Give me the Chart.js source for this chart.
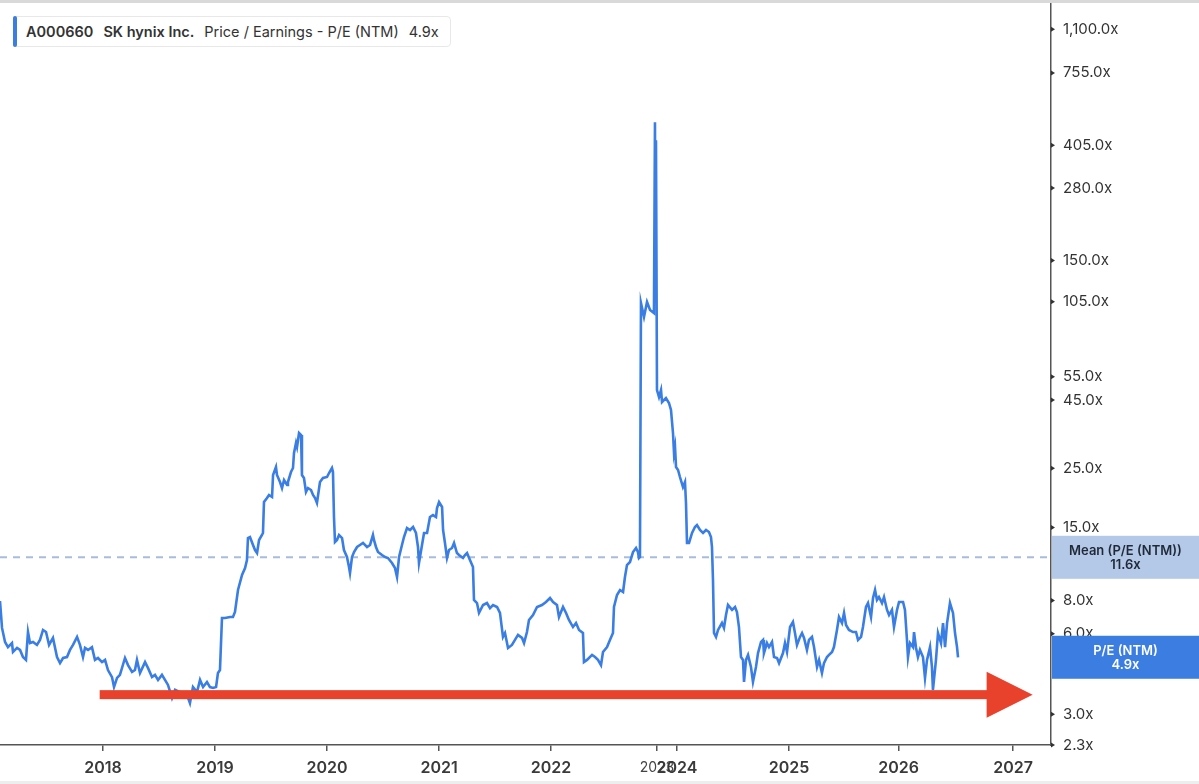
<!DOCTYPE html>
<html lang="en">
<head>
<meta charset="UTF-8">
<title>SK hynix P/E (NTM)</title>
<style>
    body {
        margin: 0;
        background: #fff;
        font-family: Inter, "Noto Sans", sans-serif;
    }
    .wrap {
        position: relative;
        width: 1199px;
        height: 784px;
        overflow: hidden;
    }
    .topbar {
        position: absolute;
        left: 0; top: 0;
        width: 100%; height: 3px;
        background: #d9d9d9;
    }
    .bottombar {
        position: absolute;
        left: 0; bottom: 0;
        width: 100%; height: 3px;
        background: #eeeeee;
    }
    .legend {
        position: absolute;
        left: 13px; top: 16px;
        width: 424px; height: 29px;
        padding-left: 12px;
        border: 1px solid #e8e8e8;
        border-radius: 4px;
        background: #fff;
        display: flex;
        align-items: center;
        font-size: 14.5px;
        color: #333;
        white-space: nowrap;
    }
    .legend .bar {
        position: absolute;
        left: -1px; top: -1px; bottom: -1px;
        width: 4px;
        background: #3b7de0;
        border-radius: 3px;
    }
    .legend span { margin-right: 10px; }
    .legend b { font-weight: 600; }
</style>
<script src="https://cdn.jsdelivr.net/npm/chart.js"></script>
</head>
<body>
<div class="wrap">
    <canvas id="peChart" width="1199" height="784"></canvas>
    <div class="topbar"></div>
    <div class="bottombar"></div>
    <div class="legend">
        <div class="bar"></div>
        <span><b>A000660</b></span>
        <span><b>SK hynix Inc.</b></span>
        <span>Price / Earnings - P/E (NTM)</span>
        <span id="legendValue">4.9x</span>
    </div>
</div>
<script>
// P/E (NTM) series, x in decimal years as plotted on the axis
const peDates = [
    2017.080, 2017.098, 2017.125, 2017.151, 2017.187, 2017.196, 2017.232, 2017.259, 2017.285, 2017.312,
    2017.330, 2017.348, 2017.375, 2017.410, 2017.437, 2017.464, 2017.491, 2017.518, 2017.553, 2017.589,
    2017.616, 2017.643, 2017.678, 2017.705, 2017.732, 2017.768, 2017.794, 2017.821, 2017.839, 2017.866,
    2017.901, 2017.928, 2017.955, 2017.991, 2018.018, 2018.044, 2018.080, 2018.098, 2018.125, 2018.151,
    2018.196, 2018.223, 2018.259, 2018.285, 2018.303, 2018.330, 2018.375, 2018.401, 2018.437, 2018.464,
    2018.491, 2018.526, 2018.553, 2018.580, 2018.616, 2018.643, 2018.687, 2018.714, 2018.750, 2018.776,
    2018.803, 2018.839, 2018.866, 2018.893, 2018.928, 2018.955, 2018.982, 2019.009, 2019.026, 2019.044,
    2019.062, 2019.089, 2019.134, 2019.160, 2019.178, 2019.205,
    2019.241, 2019.268, 2019.285, 2019.294, 2019.312, 2019.339, 2019.357, 2019.375, 2019.393, 2019.419,
    2019.428, 2019.437, 2019.464, 2019.482, 2019.509, 2019.518, 2019.544, 2019.553, 2019.580, 2019.598,
    2019.616, 2019.643, 2019.651, 2019.678, 2019.696, 2019.705, 2019.723, 2019.732, 2019.750, 2019.768,
    2019.776, 2019.794, 2019.812, 2019.830, 2019.857, 2019.875, 2019.893, 2019.910, 2019.937, 2019.964,
    2020.000, 2020.018, 2020.044, 2020.053, 2020.062, 2020.071, 2020.089, 2020.107, 2020.134, 2020.151,
    2020.178, 2020.196, 2020.205, 2020.223, 2020.241, 2020.268, 2020.294, 2020.321, 2020.357, 2020.384,
    2020.410, 2020.419, 2020.437, 2020.455, 2020.491, 2020.518, 2020.544, 2020.580, 2020.607, 2020.625,
    2020.643, 2020.669, 2020.687, 2020.714, 2020.741, 2020.768, 2020.794, 2020.812, 2020.821, 2020.848,
    2020.866, 2020.893, 2020.919, 2020.946, 2020.973, 2020.982, 2021.000, 2021.027, 2021.036, 2021.053,
    2021.071, 2021.089, 2021.116, 2021.134, 2021.160, 2021.178,
    2021.214, 2021.232, 2021.250, 2021.276, 2021.303, 2021.312, 2021.339, 2021.357, 2021.393, 2021.428,
    2021.455, 2021.482, 2021.518, 2021.544, 2021.571, 2021.589, 2021.616, 2021.651, 2021.678, 2021.705,
    2021.741, 2021.759, 2021.785, 2021.803, 2021.839, 2021.875, 2021.919, 2021.955, 2021.991, 2022.018,
    2022.053, 2022.071, 2022.107, 2022.134, 2022.160, 2022.196, 2022.223, 2022.250, 2022.285, 2022.294,
    2022.321, 2022.366, 2022.393, 2022.419, 2022.446, 2022.464, 2022.500, 2022.526, 2022.553, 2022.562,
    2022.589, 2022.616, 2022.643, 2022.660, 2022.678, 2022.705, 2022.732, 2022.759, 2022.776, 2022.785,
    2022.794, 2022.803, 2022.830, 2022.857, 2022.884, 2022.919, 2022.928, 2022.932, 2022.937, 2022.946,
    2022.964, 2022.982, 2022.991, 2023.026, 2023.053, 2023.071, 2023.089, 2023.098, 2023.107, 2023.116,
    2023.134, 2023.151, 2023.178, 2023.196, 2023.205, 2023.214, 2023.232, 2023.259, 2023.285, 2023.303,
    2023.330, 2023.357, 2023.384, 2023.410, 2023.428, 2023.437, 2023.446, 2023.455, 2023.473,
    2023.491, 2023.526, 2023.544, 2023.562, 2023.580, 2023.616, 2023.643, 2023.660, 2023.678, 2023.696,
    2023.714, 2023.723, 2023.741, 2023.759, 2023.785, 2023.803, 2023.830, 2023.848, 2023.875, 2023.893,
    2023.901, 2023.928, 2023.946, 2023.973, 2023.991, 2024.018, 2024.036, 2024.071, 2024.089, 2024.107,
    2024.134, 2024.160, 2024.178, 2024.196, 2024.223, 2024.241, 2024.259, 2024.285, 2024.303, 2024.330,
    2024.348, 2024.375, 2024.393, 2024.419, 2024.437, 2024.464, 2024.482, 2024.509, 2024.526, 2024.553,
    2024.571, 2024.598, 2024.616, 2024.634, 2024.660, 2024.696, 2024.723, 2024.741, 2024.768, 2024.785,
    2024.812, 2024.830, 2024.857, 2024.875, 2024.893, 2024.910, 2024.928, 2024.955, 2024.973, 2025.000,
    2025.018, 2025.044, 2025.062, 2025.089, 2025.107, 2025.143, 2025.160, 2025.178, 2025.187, 2025.205,
    2025.232, 2025.241, 2025.259, 2025.276, 2025.294, 2025.321, 2025.339, 2025.357, 2025.384, 2025.401,
    2025.410, 2025.437, 2025.455, 2025.482, 2025.500, 2025.518, 2025.536, 2025.562, 2025.589, 2025.607,
    2025.625, 2025.634
];
const peValues = [
    7.96, 6.31, 5.59, 5.35, 5.54, 5.13, 5.31, 5.22, 4.91, 4.79,
    6.09, 5.54, 5.59, 5.45, 5.69, 6.20, 6.09, 5.45, 5.79, 4.91,
    4.66, 4.87, 4.91, 5.22, 5.45, 5.84, 5.45, 4.91, 5.31, 5.22,
    5.35, 4.79, 4.87, 4.70, 4.79, 4.39, 4.13, 3.79, 4.10, 4.21,
    4.87, 4.58, 4.32, 4.39, 4.79, 4.28, 4.70, 4.47, 4.13, 4.21,
    4.03, 4.21, 4.03, 3.86, 3.45, 3.70, 3.63, 3.60, 3.54, 3.30,
    3.79, 3.63, 4.03, 3.79, 3.96, 3.79, 3.76, 3.79, 4.28, 4.39,
    6.87, 6.87, 6.93, 6.93, 7.24, 8.75,
    9.96, 10.57, 11.33, 13.70, 13.82, 12.90, 12.35, 12.04, 13.47, 14.06,
    14.31, 18.68, 19.34, 19.85, 19.51, 23.58, 25.27, 23.58, 22.20, 21.08,
    22.59, 21.64, 22.20, 24.20, 25.05, 28.51, 31.08, 30.02, 33.87, 33.29,
    23.58, 22.98, 20.37, 21.08, 20.72, 19.85, 19.34, 18.53, 22.20, 22.98,
    23.18, 23.99, 25.05, 24.20, 16.42, 13.24, 13.47, 14.06, 13.70, 12.35,
    11.63, 10.67, 10.13, 11.63, 12.14, 12.68, 12.90, 13.13, 12.68, 12.90,
    14.06, 13.47, 12.68, 12.14, 11.83, 11.63, 11.53, 11.04, 10.57, 9.79,
    11.63, 12.90, 13.82, 14.93, 14.68, 15.06, 14.31, 12.68, 11.04, 12.90,
    14.31, 14.31, 16.42, 16.70, 16.42, 17.74, 18.68, 17.90, 14.68, 13.13,
    11.53, 12.35, 12.57, 13.13, 12.04, 11.83,
    11.53, 11.83, 12.04, 11.33, 10.67, 8.03, 7.82, 7.18, 7.69, 7.82,
    7.49, 7.69, 7.56, 7.18, 5.84, 6.04, 5.31, 5.45, 5.69, 5.94,
    5.79, 5.54, 6.09, 6.76, 7.05, 7.56, 7.69, 7.89, 8.17, 7.89,
    7.69, 6.93, 7.56, 7.18, 6.76, 6.36, 6.58, 6.20, 6.04, 4.70,
    4.79, 5.00, 4.91, 4.79, 4.58, 5.13, 5.35, 5.69, 6.04, 7.56,
    8.38, 8.75, 8.60, 9.79, 10.85, 11.14, 12.14, 12.57, 12.14, 11.53,
    11.63, 103.9, 92.1, 104.8, 97.8, 95.3, 494, 106.6, 423, 49.07,
    46.19, 49.07, 44.25, 45.80, 43.87, 41.30, 33.87, 28.51, 30.02, 25.27,
    24.62, 23.18, 21.27, 22.20, 18.53, 13.13, 13.13, 14.31, 15.06, 15.32,
    14.68, 14.31, 14.68, 14.43, 13.82, 12.68, 9.54, 6.04, 5.84,
    6.20, 6.58, 6.31, 7.05, 7.69, 7.37, 7.56, 7.24, 6.36, 4.91,
    4.79, 3.96, 4.79, 5.00, 4.51, 3.96, 4.51, 5.08, 5.59, 5.69,
    5.08, 5.54, 5.35, 5.59, 4.91, 4.87, 4.66, 5.08, 5.54, 5.13,
    6.36, 6.64, 6.04, 5.45, 5.84, 6.04, 5.79, 5.22, 5.69, 5.84,
    5.35, 4.51, 4.79, 4.28, 4.66, 4.91, 5.00, 5.13, 5.35, 6.20,
    6.93, 6.58, 7.18, 6.47, 6.20, 6.09, 6.09, 5.69, 5.84, 6.36,
    7.56, 7.82, 6.93, 8.17, 8.75, 8.03, 8.24, 7.82, 8.24, 7.37,
    7.05, 7.37, 6.36, 7.37, 7.89, 7.89, 7.37, 5.69, 4.91, 5.54,
    5.35, 6.09, 5.31, 4.91, 5.22, 4.91, 4.10, 4.79, 5.35, 4.51,
    3.70, 4.79, 6.04, 5.54, 6.58, 5.35, 6.58, 7.82, 7.18, 6.04,
    5.35, 4.90
];
const meanValue = 11.6;
const currentValue = 4.9;

const yTicks = [2.3, 3, 6, 8, 15, 25, 45, 55, 105, 150, 280, 405, 755, 1100];
const xTicks = [2018, 2019, 2020, 2021, 2022, 2022.946, 2023.125, 2024.125, 2025.103, 2026.125];
const xTickLabels = ['2018', '2019', '2020', '2021', '2022', '2023', '2024', '2025', '2026', '2027'];
const faintTickLabel = '2023';
const xRange = [2017.08, 2026.464];
const yRange = [2.3, 1368];

// red arrow annotation (data units)
const arrowFrom = 2017.97;
const arrowTo = 2026.30;
const arrowLevel = 3.55;

function fmtX(v) {
    return Number(v).toLocaleString('en-US', { minimumFractionDigits: 1, maximumFractionDigits: 1 }) + 'x';
}

function drawTag(ctx, left, width, cy, bg, fg, line1, line2) {
    ctx.save();
    ctx.fillStyle = bg;
    ctx.fillRect(left, cy - 21.5, width, 43);
    ctx.fillStyle = fg;
    ctx.font = '600 13px Inter, sans-serif';
    ctx.textAlign = 'center';
    ctx.textBaseline = 'middle';
    ctx.fillText(line1, left + width / 2, cy - 6.5);
    ctx.fillText(line2, left + width / 2, cy + 7.5);
    ctx.restore();
}

const overlays = {
    id: 'overlays',
    afterDatasetsDraw(chart) {
        const { ctx, scales: { x, y } } = chart;
        const x0 = x.getPixelForValue(arrowFrom);
        const x1 = x.getPixelForValue(arrowTo);
        const yy = y.getPixelForValue(arrowLevel);
        const head = 46;
        ctx.save();
        ctx.fillStyle = '#e8412c';
        ctx.fillRect(x0, yy - 4.5, x1 - head - x0 + 1, 9);
        ctx.beginPath();
        ctx.moveTo(x1 - head, yy - 23);
        ctx.lineTo(x1, yy);
        ctx.lineTo(x1 - head, yy + 23);
        ctx.closePath();
        ctx.fill();
        ctx.restore();
    },
    afterDraw(chart) {
        const { ctx, chartArea, scales: { y } } = chart;
        const left = chartArea.right;
        // little triangle tick marks on the value axis
        ctx.save();
        ctx.fillStyle = '#333';
        yTicks.forEach(v => {
            const py = y.getPixelForValue(v);
            ctx.beginPath();
            ctx.moveTo(left, py - 2.5);
            ctx.lineTo(left + 4, py);
            ctx.lineTo(left, py + 2.5);
            ctx.closePath();
            ctx.fill();
        });
        ctx.restore();
        const w = chart.width - left - 1;
        drawTag(ctx, left + 1, w, y.getPixelForValue(meanValue), '#b4c9e7', '#1f2937',
            'Mean (P/E (NTM))', fmtX(meanValue));
        drawTag(ctx, left + 1, w, y.getPixelForValue(currentValue), '#3b7de0', '#ffffff',
            'P/E (NTM)', fmtX(currentValue));
    }
};

const ctx = document.getElementById('peChart').getContext('2d');
const peChart = new Chart(ctx, {
    type: 'line',
    data: {
        datasets: [{
            label: 'P/E (NTM)',
            data: peDates.map((d, i) => ({ x: d, y: peValues[i] })),
            borderColor: '#3a7de3',
            borderWidth: 2.6,
            pointRadius: 0,
            tension: 0
        }, {
            label: 'Mean',
            data: [{ x: xRange[0], y: meanValue }, { x: xRange[1], y: meanValue }],
            borderColor: '#a9bcdc',
            borderWidth: 2,
            borderDash: [7, 6],
            pointRadius: 0
        }]
    },
    options: {
        responsive: false,
        animation: false,
        devicePixelRatio: 1,
        layout: { padding: { top: 4, left: 0, right: 0, bottom: 0 } },
        plugins: {
            legend: { display: false },
            tooltip: { enabled: false }
        },
        scales: {
            x: {
                type: 'linear',
                min: xRange[0],
                max: xRange[1],
                afterBuildTicks: s => { s.ticks = xTicks.map(v => ({ value: v })); },
                afterFit: s => { s.height = 39; },
                border: { color: '#555', width: 1.5 },
                grid: { drawOnChartArea: false, tickLength: 6, color: '#555', lineWidth: 1.5 },
                ticks: {
                    autoSkip: false,
                    maxRotation: 0,
                    padding: 8,
                    color: c => xTickLabels[c.index] === faintTickLabel ? '#444' : '#3a3a3a',
                    font: c => xTickLabels[c.index] === faintTickLabel
                        ? { family: 'Inter', size: 14, weight: 'normal' }
                        : { family: 'Inter', size: 16, weight: '600' },
                    callback: (v, i) => xTickLabels[i]
                }
            },
            y: {
                type: 'logarithmic',
                position: 'right',
                min: yRange[0],
                max: yRange[1],
                afterBuildTicks: s => { s.ticks = yTicks.map(v => ({ value: v })); },
                afterFit: s => { s.width = 148; },
                border: { color: '#555', width: 1.5 },
                grid: { drawOnChartArea: false, drawTicks: true, tickLength: 12, color: 'rgba(0,0,0,0)' },
                ticks: {
                    padding: 0,
                    color: '#333',
                    font: { family: 'Inter', size: 15, lineHeight: 0.4 },
                    callback: v => fmtX(v)
                }
            }
        }
    },
    plugins: [overlays]
});
</script>
</body>
</html>
